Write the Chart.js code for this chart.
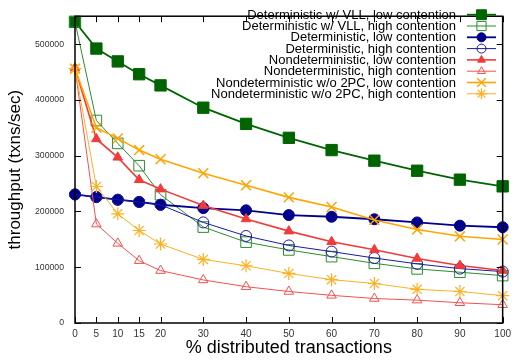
<!DOCTYPE html>
<html>
<head>
<meta charset="utf-8">
<script src="https://cdn.jsdelivr.net/npm/chart.js@4/dist/chart.umd.min.js"></script>
<style>
  html, body { margin: 0; padding: 0; background: #fff; }
  #wrap { width: 516px; height: 362px; }
</style>
</head>
<body>
<div id="wrap"><canvas id="chart" width="516" height="362"></canvas></div>
<script>
// % distributed transactions
const xs = [0, 5, 10, 15, 20, 30, 40, 50, 60, 70, 80, 90, 100];
const yTicks = [0, 100000, 200000, 300000, 400000, 500000];

const vllLow = [540000, 492000, 469000, 446000, 426000, 386000, 357000, 332000, 310000, 291000, 273000, 257000, 245000];
const vllHigh = [540000, 363000, 322000, 282000, 230000, 172000, 145000, 131000, 119000, 107000, 97000, 91000, 85000];
const detLow = [230500, 225700, 221000, 217000, 212000, 206000, 202000, 193500, 190500, 186000, 180300, 174500, 171700];
const detHigh = [230500, 225700, 221000, 217000, 212000, 180300, 156000, 139000, 128000, 116500, 106000, 97500, 92200];
const ndLow = [457000, 330000, 297000, 256700, 240000, 210500, 186500, 164700, 145700, 131300, 115700, 103100, 94000];
const ndHigh = [457000, 177400, 142800, 111700, 94000, 77200, 65100, 56500, 49600, 43900, 41000, 36300, 32800];
const no2pcLow = [456000, 350000, 331000, 310000, 293600, 268400, 247000, 225200, 208000, 184600, 167500, 155400, 149700];
const no2pcHigh = [456000, 244700, 195800, 165800, 141600, 114000, 102600, 88800, 77700, 70800, 60400, 56500, 49000];

function pts(arr) {
	return xs.map((x, i) => ({ x: x, y: arr[i] }));
}

const FONT = "'Liberation Sans', Arial, sans-serif";

const series = [
	{ label: "Deterministic w/ VLL, low contention", data: vllLow, color: "#006400", bg: "#006400", style: "rect", r: 8, lw: 1.8, pbw: 1 },
	{ label: "Deterministic w/ VLL, high contention", data: vllHigh, color: "#2e8b2e", bg: "transparent", style: "rect", r: 7.5, lw: 1, pbw: 1 },
	{ label: "Deterministic, low contention", data: detLow, color: "#00008b", bg: "#00008b", style: "circle", r: 5.5, lw: 1.8, pbw: 1 },
	{ label: "Deterministic, high contention", data: detHigh, color: "#1a1aa0", bg: "transparent", style: "circle", r: 5.5, lw: 1, pbw: 1 },
	{ label: "Nondeterministic, low contention", data: ndLow, color: "#f23a3a", bg: "#f23a3a", style: "triangle", r: 5.5, lw: 1.6, pbw: 1 },
	{ label: "Nondeterministic, high contention", data: ndHigh, color: "#f55050", bg: "transparent", style: "triangle", r: 5.5, lw: 1, pbw: 1 },
	{ label: "Nondeterministic w/o 2PC, low contention", data: no2pcLow, color: "#ffa500", bg: "#ffa500", style: "crossRot", r: 7, lw: 1.6, pbw: 1.5 },
	{ label: "Nondeterministic w/o 2PC, high contention", data: no2pcHigh, color: "#ffb020", bg: "#ffb020", style: "star", r: 6.5, lw: 1, pbw: 1.2 },
];

// gnuplot style: box border, inward mirrored ticks, legend at top right
const framePlugin = {
	id: "frame",
	afterDraw(chart) {
		const ctx = chart.ctx;
		const a = chart.chartArea;
		const xs_ = chart.scales.x;
		const ys_ = chart.scales.y;
		ctx.save();
		ctx.strokeStyle = "#000";
		ctx.lineWidth = 1;
		xs_.ticks.forEach((t) => {
			const px = Math.round(xs_.getPixelForValue(t.value)) + 0.5;
			ctx.beginPath();
			ctx.moveTo(px, a.bottom); ctx.lineTo(px, a.bottom - 6);
			ctx.moveTo(px, a.top); ctx.lineTo(px, a.top + 6);
			ctx.stroke();
		});
		ys_.ticks.forEach((t) => {
			const py = Math.round(ys_.getPixelForValue(t.value)) + 0.5;
			ctx.beginPath();
			ctx.moveTo(a.left, py); ctx.lineTo(a.left + 6, py);
			ctx.moveTo(a.right, py); ctx.lineTo(a.right - 6, py);
			ctx.stroke();
		});
		ctx.lineWidth = 1.5;
		ctx.strokeRect(a.left, a.top, a.right - a.left, a.bottom - a.top);

		// legend
		ctx.font = "13px " + FONT;
		ctx.textAlign = "right";
		ctx.textBaseline = "middle";
		chart.data.datasets.forEach((ds, i) => {
			const y = 14.7 + i * 11.3;
			ctx.fillStyle = "#000";
			ctx.fillText(ds.label, 456, y + 0.5);
			ctx.strokeStyle = ds.borderColor;
			ctx.lineWidth = ds.borderWidth;
			ctx.beginPath();
			ctx.moveTo(467, y); ctx.lineTo(496, y);
			ctx.stroke();
			ctx.fillStyle = ds.pointBackgroundColor;
			ctx.strokeStyle = ds.borderColor;
			ctx.lineWidth = ds.pointBorderWidth;
			Chart.helpers.drawPoint(ctx, { pointStyle: ds.pointStyle, radius: ds.pointRadius - 1, rotation: 0, borderWidth: ds.pointBorderWidth }, 481.5, y);
		});
		ctx.restore();
	},
};

const ctx = document.getElementById("chart").getContext("2d");
const chart = new Chart(ctx, {
	type: "line",
	data: {
		datasets: series.map((s, i) => ({
			label: s.label,
			data: pts(s.data),
			borderColor: s.color,
			backgroundColor: s.bg,
			pointBackgroundColor: s.bg,
			pointBorderColor: s.color,
			pointBorderWidth: s.pbw,
			borderWidth: s.lw,
			pointStyle: s.style,
			pointRadius: s.r,
			tension: 0,
			fill: false,
			clip: false,
			order: series.length - i,
		})),
	},
	options: {
		responsive: false,
		animation: false,
		events: [],
		layout: { padding: { top: 4, right: 10, left: 0, bottom: 0 } },
		plugins: {
			legend: { display: false },
			tooltip: { enabled: false },
		},
		scales: {
			x: {
				type: "linear",
				min: 0,
				max: 100,
				afterBuildTicks: (s) => { s.ticks = xs.map((v) => ({ value: v })); },
				afterFit: (s) => { s.height = 39; },
				grid: { display: false, drawTicks: false },
				border: { display: false },
				ticks: { color: "#333", font: { size: 10, family: FONT }, padding: 5, maxRotation: 0, autoSkip: false },
				title: { display: true, text: "% distributed transactions", color: "#000", font: { size: 18, family: FONT }, padding: { top: 0, bottom: 3 } },
			},
			y: {
				min: 0,
				max: 550000,
				afterBuildTicks: (s) => { s.ticks = yTicks.map((v) => ({ value: v })); },
				afterFit: (s) => { s.width = 75; },
				grid: { display: false, drawTicks: false },
				border: { display: false },
				ticks: { color: "#333", font: { size: 8.7, family: FONT }, padding: 11, callback: (v) => String(v) },
				title: { display: true, text: "throughput (txns/sec)", color: "#000", font: { size: 17, family: FONT }, padding: { top: 5, bottom: 0 } },
			},
		},
	},
	plugins: [framePlugin],
});
</script>
</body>
</html>
